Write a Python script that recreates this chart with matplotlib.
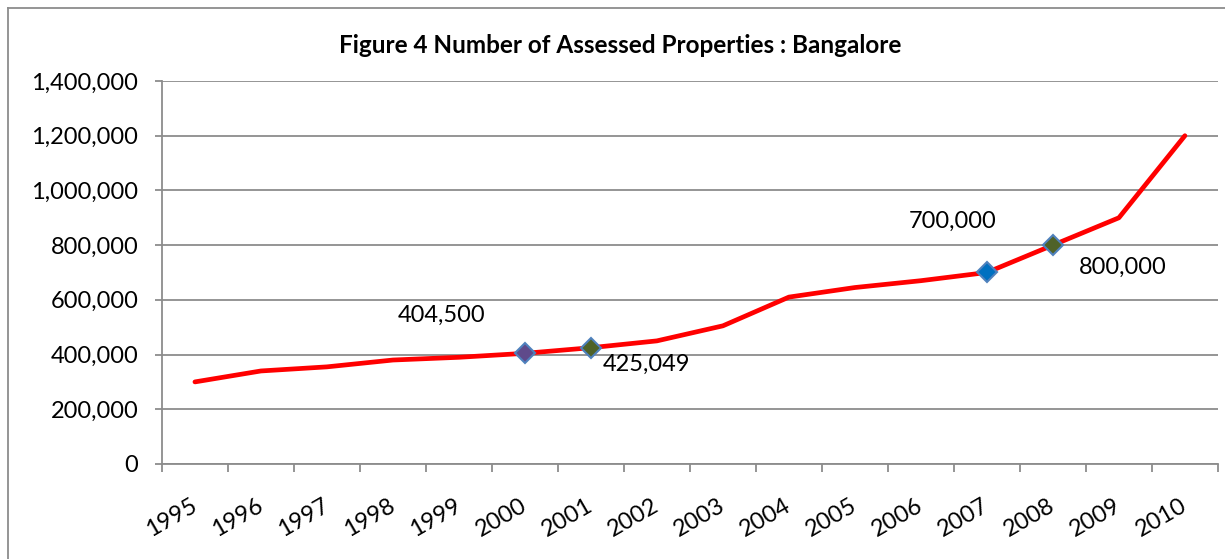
import matplotlib
matplotlib.use("Agg")
import matplotlib.pyplot as plt
from matplotlib.lines import Line2D
from matplotlib.ticker import FuncFormatter

plt.rcParams['font.family'] = ['Lato', 'DejaVu Sans']

years = [str(y) for y in range(1995, 2011)]
properties = [300000, 340000, 355000, 380000, 390000, 404500, 425049, 450000,
              505000, 610000, 645000, 670000, 700000, 800000, 900000, 1200000]

# highlighted points: (year, colour)
marked_years = ['2000', '2001', '2007', '2008']
marked_colors = ['#5f4a8b', '#4f6228', '#0070c0', '#4f6228']

# data labels: (year, text offset in points)
label_years = ['2000', '2001', '2007', '2008']
label_offsets = [(-60, 27), (40, -12), (-25, 37), (50, -16)]

title = "Figure 4 Number of Assessed Properties : Bangalore"

fig = plt.figure(figsize=(12.25, 5.59), dpi=100)
ax = fig.add_axes([0.1322, 0.17, 0.862, 0.6851])

xs = list(range(len(years)))
ax.plot(xs, properties, color='#ff0000', lw=3.4, solid_capstyle='round', zorder=3)

for yr, c in zip(marked_years, marked_colors):
    i = years.index(yr)
    ax.plot(i, properties[i], marker='D', ms=10, mfc=c, mec='#4f81bd', mew=1.5,
            ls='none', zorder=4)

for yr, off in zip(label_years, label_offsets):
    i = years.index(yr)
    ax.annotate(f"{properties[i]:,}", (i, properties[i]), xytext=off,
                textcoords='offset points', ha='center', va='center', fontsize=17)

ax.set_xlim(-0.5, len(years) - 0.5)
ax.set_ylim(0, 1400000)
ax.set_yticks(range(0, 1400001, 200000))
ax.yaxis.set_major_formatter(FuncFormatter(lambda v, p: f"{int(v):,}"))
ax.grid(axis='y', color='#8c8c8c', lw=1.3)
ax.set_axisbelow(True)

# category boundaries as major ticks, labels at centres on minor ticks
ax.set_xticks([i - 0.5 for i in range(len(years) + 1)])
ax.set_xticklabels([])
ax.set_xticks(xs, minor=True)
ax.set_xticklabels(years, minor=True, rotation=30, ha='right',
                   rotation_mode='anchor', va='center', fontsize=17)
ax.tick_params(axis='x', which='major', length=6, color='#8c8c8c', width=1.3)
ax.tick_params(axis='x', which='minor', length=0, pad=29)
ax.tick_params(axis='y', length=5, color='#8c8c8c', width=1.3, pad=12, labelsize=17)

for s in ['top', 'right']:
    ax.spines[s].set_visible(False)
for s in ['left', 'bottom']:
    ax.spines[s].set_color('#8c8c8c')
    ax.spines[s].set_linewidth(1.3)

fig.text(0.506, 0.918, title, ha='center', va='center', fontsize=17.5, fontweight='bold')

# outer chart frame
fig.add_artist(Line2D([8 / 1225, 8 / 1225], [0, 1 - 8 / 559], color='#8c8c8c', lw=1.3))
fig.add_artist(Line2D([8 / 1225, 1], [1 - 8 / 559, 1 - 8 / 559], color='#8c8c8c', lw=1.3))

fig.savefig("out.png", dpi=100)
